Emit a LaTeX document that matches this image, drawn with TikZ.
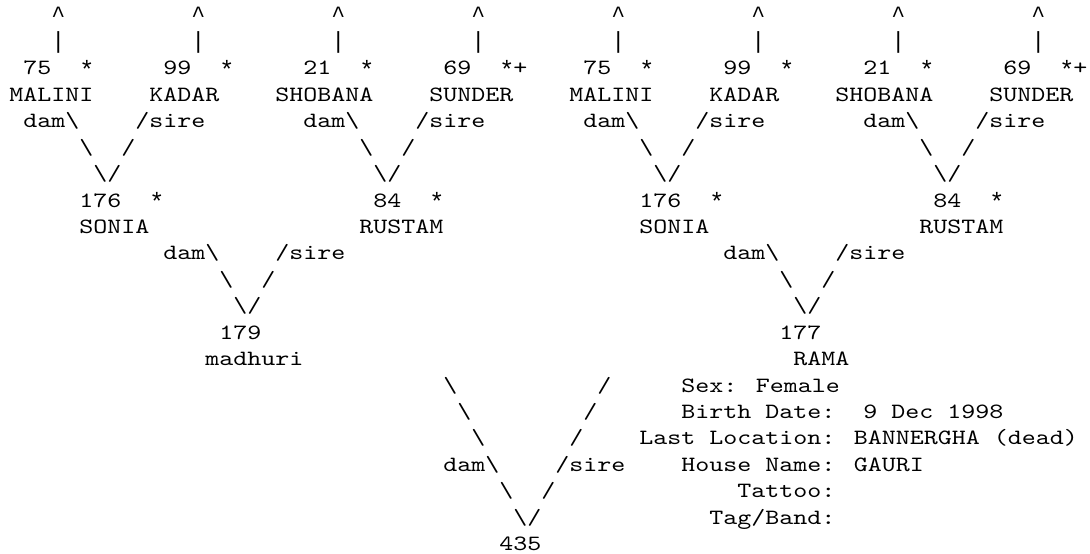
\documentclass[tikz,border=0pt]{standalone}
\usepackage{fontspec}
\newfontfamily\asciimono{lmmono10-regular}[Extension=.otf,FakeStretch=1.2233]
\newfontfamily\barmono{Liberation Mono}
\newcommand\bsl{\textbackslash}
\newcommand\caretch{{\barmono\fontsize{23.33pt}{26.43pt}\selectfont\textasciicircum}}
\newcommand\barch{{\barmono\fontsize{23.33pt}{26.43pt}\selectfont|}}
\newcommand\starch{\raisebox{-3.5pt}{\barmono\fontsize{25pt}{26.43pt}\selectfont*}}
\tikzset{tok/.style={anchor=base west,inner sep=0pt,outer sep=0pt,text=black,
  font=\asciimono\fontsize{21.8pt}{26.43pt}\selectfont}}
\newcommand\tk[3]{\node[tok] (r#1c#2) at ({9.3+14*#2},{531.9-26.43*(#1-1)}) {#3};}
\begin{document}
\begin{tikzpicture}[x=1pt,y=1pt]
\fill[white] (0,0) rectangle (1090,554);
\useasboundingbox (0,0) rectangle (1090,554);
% line 1 and 2
\foreach \c in {3,13,23,33,43,53,63,73}{\tk{1}{\c}{\caretch}\tk{2}{\c}{\barch}}
% line 3
\tk{3}{1}{75}\tk{3}{5}{\starch}\tk{3}{11}{99}\tk{3}{15}{\starch}
\tk{3}{21}{21}\tk{3}{25}{\starch}\tk{3}{31}{69}\tk{3}{35}{\starch}\tk{3}{36}{+}
\tk{3}{41}{75}\tk{3}{45}{\starch}\tk{3}{51}{99}\tk{3}{55}{\starch}
\tk{3}{61}{21}\tk{3}{65}{\starch}\tk{3}{71}{69}\tk{3}{75}{\starch}\tk{3}{76}{+}
% line 4
\tk{4}{0}{MALINI}\tk{4}{10}{KADAR}\tk{4}{19}{SHOBANA}\tk{4}{30}{SUNDER}
\tk{4}{40}{MALINI}\tk{4}{50}{KADAR}\tk{4}{59}{SHOBANA}\tk{4}{70}{SUNDER}
% line 5
\tk{5}{1}{dam\bsl}\tk{5}{9}{/sire}\tk{5}{21}{dam\bsl}\tk{5}{29}{/sire}
\tk{5}{41}{dam\bsl}\tk{5}{49}{/sire}\tk{5}{61}{dam\bsl}\tk{5}{69}{/sire}
% line 6
\tk{6}{5}{\bsl}\tk{6}{8}{/}\tk{6}{25}{\bsl}\tk{6}{28}{/}
\tk{6}{45}{\bsl}\tk{6}{48}{/}\tk{6}{65}{\bsl}\tk{6}{68}{/}
% line 7
\tk{7}{6}{\bsl/}\tk{7}{26}{\bsl/}\tk{7}{46}{\bsl/}\tk{7}{66}{\bsl/}
% line 8
\tk{8}{5}{176}\tk{8}{10}{\starch}\tk{8}{26}{84}\tk{8}{30}{\starch}
\tk{8}{45}{176}\tk{8}{50}{\starch}\tk{8}{66}{84}\tk{8}{70}{\starch}
% line 9
\tk{9}{5}{SONIA}\tk{9}{25}{RUSTAM}\tk{9}{45}{SONIA}\tk{9}{65}{RUSTAM}
% line 10
\tk{10}{11}{dam\bsl}\tk{10}{19}{/sire}\tk{10}{51}{dam\bsl}\tk{10}{59}{/sire}
% line 11
\tk{11}{15}{\bsl}\tk{11}{18}{/}\tk{11}{55}{\bsl}\tk{11}{58}{/}
% line 12
\tk{12}{16}{\bsl/}\tk{12}{56}{\bsl/}
% line 13
\tk{13}{15}{179}\tk{13}{55}{177}
% line 14
\tk{14}{14}{madhuri}\tk{14}{56}{RAMA}
% line 15
\tk{15}{31}{\bsl}\tk{15}{42}{/}\tk{15}{48}{Sex: Female}
% line 16
\tk{16}{32}{\bsl}\tk{16}{41}{/}\tk{16}{48}{Birth Date:}\tk{16}{61}{9 Dec 1998}
% line 17
\tk{17}{33}{\bsl}\tk{17}{40}{/}\tk{17}{45}{Last Location: BANNERGHA (dead)}
% line 18
\tk{18}{31}{dam\bsl}\tk{18}{39}{/sire}\tk{18}{48}{House Name: GAURI}
% line 19
\tk{19}{35}{\bsl}\tk{19}{38}{/}\tk{19}{52}{Tattoo:}
% line 20
\tk{20}{36}{\bsl/}\tk{20}{50}{Tag/Band:}
% line 21
\tk{21}{35}{435}
\end{tikzpicture}
\end{document}
